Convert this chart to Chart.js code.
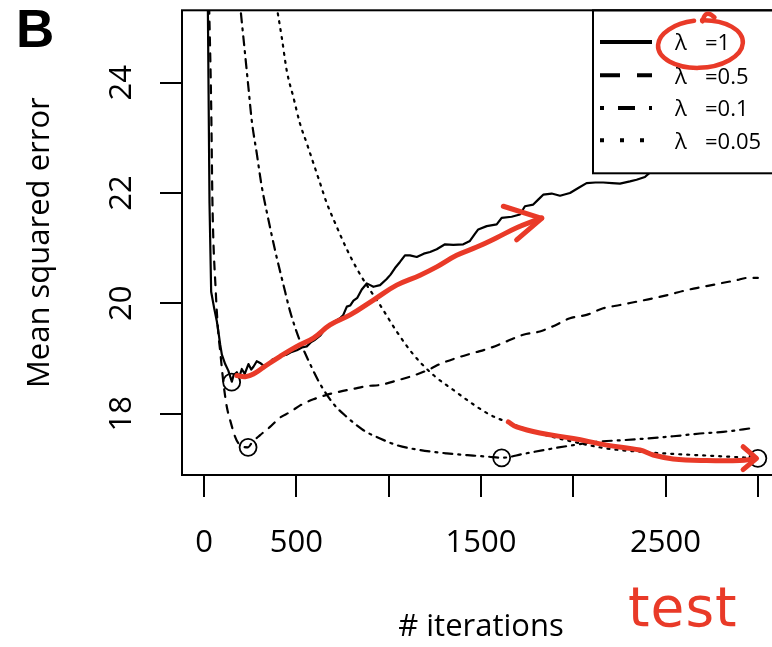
<!DOCTYPE html>
<html><head><meta charset="utf-8">
<script src="https://cdn.jsdelivr.net/npm/chart.js@4.4.1/dist/chart.umd.min.js"></script>
<style>html,body{margin:0;padding:0;overflow:hidden;background:#fff}canvas{display:block}</style>
</head><body>
<canvas id="c" width="800" height="647"></canvas>
<script>
// ---- tick labels ----
const xTickValues = [0, 500, 1000, 1500, 2000, 2500, 3000];
const xTickLabels = ['0', '500', '', '1500', '', '2500', ''];
const yTickValues = [18, 20, 22, 24];
const yTickLabels = ['18', '20', '22', '24'];
const seriesLabels = ['λ =1', 'λ =0.5', 'λ =0.1', 'λ =0.05'];
const xTitle = '# iterations';
const yTitle = 'Mean squared error';
const panelLabel = 'B';

// ---- series: lambda = 1 (solid) ----
const iterL1 = [20,29,38,55,69,77,87,96,114,131,150,160,177,190,204,220,240,255,267,285,303,325,348,370,394,420,448,475,502,530,556,580,601,630,664,700,736,754,773,791,809,830,854,881,900,917,953,989,1010,1034,1061,1088,1115,1152,1190,1224,1260,1305,1350,1404,1440,1465,1485,1531,1585,1612,1666,1711,1738,1783,1810,1837,1883,1928,1982,2027,2072,2120,2162,2210,2253,2307,2343,2388,2415,2440];
const mseL1 = [25.40,21.82,20.21,19.90,19.67,19.49,19.25,19.07,18.90,18.78,18.58,18.70,18.75,18.66,18.81,18.72,18.90,18.80,18.85,18.95,18.92,18.86,18.90,18.98,19.01,19.05,19.07,19.12,19.15,19.20,19.22,19.30,19.34,19.42,19.58,19.66,19.73,19.79,19.94,19.96,20.05,20.10,20.25,20.36,20.33,20.30,20.33,20.44,20.52,20.64,20.75,20.87,20.87,20.84,20.90,20.93,20.98,21.07,21.06,21.07,21.13,21.25,21.34,21.40,21.43,21.55,21.57,21.61,21.76,21.79,21.88,21.97,21.99,21.95,22.00,22.09,22.18,22.19,22.19,22.18,22.17,22.21,22.24,22.29,22.37,22.45];
// ---- lambda = 0.5 (dashed) ----
const iterL05 = [27,38,45,63,76,87,105,123,141,168,186,210,238,260,303,357,412,466,520,592,664,736,809,881,953,1043,1134,1224,1278,1368,1458,1549,1639,1729,1819,1901,1982,2072,2162,2253,2343,2433,2523,2614,2704,2794,2885,2940,3000];
const mseL05 = [25.40,23.61,21.82,20.21,19.49,19.13,18.54,18.12,17.88,17.58,17.46,17.40,17.39,17.48,17.61,17.76,17.93,18.03,18.15,18.26,18.34,18.40,18.45,18.50,18.52,18.60,18.69,18.81,18.90,19.01,19.10,19.19,19.31,19.43,19.49,19.60,19.73,19.79,19.91,19.97,20.03,20.09,20.16,20.24,20.30,20.36,20.42,20.46,20.46];
// ---- lambda = 0.1 (dot-dash) ----
const iterL01 = [195,222,240,258,285,312,348,385,430,466,520,574,628,700,773,863,953,1043,1170,1314,1458,1540,1612,1729,1856,2000,2126,2271,2397,2541,2686,2812,2974];
const mseL01 = [25.40,24.51,23.91,23.31,22.72,22.12,21.52,20.95,20.33,19.85,19.31,18.90,18.54,18.18,17.94,17.70,17.55,17.43,17.34,17.28,17.24,17.22,17.20,17.27,17.35,17.43,17.49,17.52,17.55,17.59,17.64,17.67,17.74];
// ---- lambda = 0.05 (dotted) ----
const iterL005 = [392,421,448,484,520,556,592,628,664,709,773,827,881,953,1043,1134,1242,1350,1458,1549,1639,1729,1819,2000,2180,2361,2541,2722,2902,3000];
const mseL005 = [25.40,24.81,24.21,23.73,23.25,22.90,22.54,22.18,21.82,21.46,20.98,20.63,20.33,19.97,19.49,19.07,18.70,18.43,18.17,17.98,17.85,17.74,17.64,17.49,17.37,17.31,17.27,17.24,17.21,17.19];
// ---- minima (open circles) ----
const minIter = [149, 238, 1612, 3000];
const minMse = [18.57, 17.39, 17.20, 17.19];

// ---- red hand-drawn annotations (data coordinates) ----
const arrow1Iter = [177,222,267,321,412,502,592,682,791,917,1043,1170,1260,1368,1477,1585,1693,1783,1829];
const arrow1Mse = [18.69,18.67,18.72,18.84,19.04,19.22,19.37,19.61,19.79,20.06,20.33,20.51,20.66,20.87,21.02,21.19,21.37,21.49,21.55];
const arrow1HeadIter = [1621, 1829, 1693];
const arrow1HeadMse = [21.76, 21.54, 21.15];
const arrow2Iter = [1648,1693,1819,2000,2181,2361,2433,2541,2722,2902,2984];
const arrow2Mse = [17.85,17.76,17.65,17.55,17.43,17.34,17.25,17.18,17.15,17.15,17.18];
const arrow2HeadIter = [2920, 2993, 2920];
const arrow2HeadMse = [17.40, 17.19, 16.985];
const loopCenter = [2689, 24.70];
const loopRadius = [230, 0.43];
const noteText = 'test';

const RED = 'rgb(233,58,40)';
const pts = (xs, ys) => xs.map((x, i) => ({x: x, y: ys[i]}));

const lineDs = (label, xs, ys, dash, smooth) => ({
  label: label, data: pts(xs, ys), borderColor: '#000', borderWidth: 2.2,
  borderDash: dash, borderCapStyle: 'round', borderJoinStyle: 'round',
  pointRadius: 0, fill: false,
  cubicInterpolationMode: smooth ? 'monotone' : 'default', tension: 0
});
const redDs = (xs, ys, tension) => ({
  label: '', data: pts(xs, ys), borderColor: RED, borderWidth: 5,
  borderCapStyle: 'round', borderJoinStyle: 'round', pointRadius: 0,
  tension: tension, order: -1, fill: false
});

const legendDash = [[], [20, 17], [4, 14, 17, 14], [4, 16]];
const noPad = s => { s.paddingTop = 0; s.paddingBottom = 0; s.paddingLeft = 0; s.paddingRight = 0; };

const decor = {
  id: 'decor',
  afterDatasetsDraw(chart) {
    const {ctx, chartArea: a} = chart;
    const lw = 187, lh = 163;
    const lx = a.right - lw, ly = a.top;
    ctx.save();
    ctx.fillStyle = '#fff';
    ctx.fillRect(lx, ly, lw, lh);
    ctx.strokeStyle = '#000';
    ctx.lineWidth = 2;
    ctx.strokeRect(lx, ly, lw, lh);
    const rowY = [31.7, 65, 97.7, 130];
    seriesLabels.forEach((lab, i) => {
      const y = ly + rowY[i];
      ctx.beginPath();
      ctx.setLineDash(legendDash[i]);
      ctx.lineWidth = 4;
      ctx.lineCap = 'butt';
      ctx.moveTo(lx + 7, y);
      ctx.lineTo(lx + 59, y);
      ctx.stroke();
      ctx.setLineDash([]);
      ctx.fillStyle = '#000';
      ctx.font = '22px "Open Sans"';
      ctx.textBaseline = 'middle';
      ctx.textAlign = 'left';
      const parts = lab.split(' ');
      ctx.fillText(parts[0], lx + 82, y + 2);
      ctx.fillText(parts[1], lx + 112, y + 2);
    });
    ctx.restore();
  },
  afterDraw(chart) {
    const {ctx, chartArea: a} = chart;
    const xs = chart.scales.x, ys = chart.scales.y;
    ctx.save();
    ctx.strokeStyle = '#000';
    ctx.lineWidth = 2;
    ctx.strokeRect(a.left, a.top, a.right - a.left, a.bottom - a.top);
    ctx.fillStyle = '#000';
    ctx.font = 'bold 53px "Liberation Sans"';
    ctx.textBaseline = 'alphabetic';
    ctx.textAlign = 'left';
    ctx.fillText(panelLabel, 16, 47);
    // red loop around legend entry
    const cx = xs.getPixelForValue(loopCenter[0]);
    const cy = ys.getPixelForValue(loopCenter[1]);
    const rx = xs.getPixelForValue(loopCenter[0] + loopRadius[0]) - cx;
    const ry = cy - ys.getPixelForValue(loopCenter[1] + loopRadius[1]);
    ctx.strokeStyle = RED;
    ctx.lineWidth = 4.5;
    ctx.lineCap = 'round';
    ctx.beginPath();
    ctx.ellipse(cx, cy, rx, ry, -0.06, -1.5, -1.5 + 2 * Math.PI * 0.97);
    ctx.stroke();
    ctx.beginPath();
    ctx.moveTo(cx + 2, cy - ry + 1);
    ctx.quadraticCurveTo(cx + 5, cy - ry - 12, cx + 14, cy - ry - 3);
    ctx.stroke();
    // handwritten note
    ctx.fillStyle = RED;
    ctx.font = '55px "DejaVu Sans"';
    try { ctx.letterSpacing = '1px'; } catch (e) {}
    ctx.fillText(noteText, 628, 626);
    ctx.restore();
  }
};

const tickFont = {family: "'Open Sans', sans-serif", size: 31};
const titleFont = {family: "'Open Sans', sans-serif", size: 31};

new Chart(document.getElementById('c'), {
  type: 'line',
  data: {
    datasets: [
      redDs(arrow1Iter, arrow1Mse, 0.4),
      redDs(arrow1HeadIter, arrow1HeadMse, 0),
      redDs(arrow2Iter, arrow2Mse, 0.4),
      redDs(arrow2HeadIter, arrow2HeadMse, 0),
      lineDs(seriesLabels[0], iterL1, mseL1, [], false),
      lineDs(seriesLabels[1], iterL05, mseL05, [8, 8], true),
      lineDs(seriesLabels[2], iterL01, mseL01, [2, 6, 9, 6], true),
      lineDs(seriesLabels[3], iterL005, mseL005, [2, 6], true),
      {
        label: 'minimum', type: 'scatter', data: pts(minIter, minMse), showLine: false,
        pointRadius: 8.5, pointBorderWidth: 1.8, pointBorderColor: '#000',
        pointBackgroundColor: 'rgba(0,0,0,0)', pointHoverRadius: 8.5
      }
    ]
  },
  options: {
    responsive: false,
    devicePixelRatio: 1,
    animation: false,
    events: [],
    layout: {padding: {top: 5, right: 20, left: 0, bottom: 0}},
    plugins: {legend: {display: false}, tooltip: {enabled: false}},
    scales: {
      x: {
        type: 'linear', min: -120, max: 3120,
        afterBuildTicks: s => { s.ticks = xTickValues.map(v => ({value: v})); },
        afterFit: s => { s.height = 172; noPad(s); },
        ticks: {
          autoSkip: false, maxRotation: 0, minRotation: 0, padding: 28,
          color: '#000', font: tickFont,
          callback: v => { const i = xTickValues.indexOf(v); return i >= 0 ? xTickLabels[i] : ''; }
        },
        grid: {display: true, drawOnChartArea: false, drawTicks: true, tickLength: 22, color: '#000', lineWidth: 2},
        border: {display: false},
        title: {display: true, text: xTitle, color: '#000', font: titleFont, padding: {top: 0, bottom: 1}}
      },
      y: {
        type: 'linear', min: 16.888, max: 25.312,
        afterBuildTicks: s => { s.ticks = yTickValues.map(v => ({value: v})); },
        afterFit: s => { s.width = 182; noPad(s); },
        ticks: {
          autoSkip: false, minRotation: 90, maxRotation: 90, crossAlign: 'center', padding: 20,
          color: '#000', font: tickFont,
          callback: v => { const i = yTickValues.indexOf(v); return i >= 0 ? yTickLabels[i] : ''; }
        },
        grid: {display: true, drawOnChartArea: false, drawTicks: true, tickLength: 22, color: '#000', lineWidth: 2},
        border: {display: false},
        title: {display: true, text: yTitle, color: '#000', font: titleFont, padding: {top: 22, bottom: 0}}
      }
    }
  },
  plugins: [decor]
});
</script>
</body></html>
